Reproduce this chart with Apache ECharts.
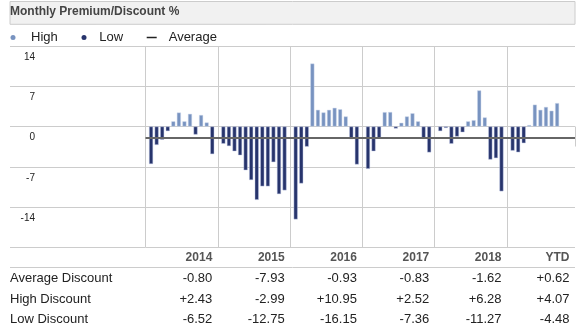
<!DOCTYPE html>
<html><head><meta charset="utf-8">
<script src="https://cdn.jsdelivr.net/npm/echarts@6/dist/echarts.min.js"></script>
<style>html,body{margin:0;padding:0;background:#fff}#c{width:585px;height:331px}</style>
</head><body><div id="c"></div>
<script>
// ---- data ----
const years = ['2014', '2015', '2016', '2017', '2018', 'YTD'];
const m2014 = [-6.52, -3.2, -2.3, -0.8, 0.9, 2.43, 0.9, 2.2, -1.4, 2.0, 0.7, -4.8];
const m2015 = [-2.99, -3.4, -4.3, -5.0, -7.6, -9.3, -12.75, -10.4, -10.4, -6.2, -11.75, -11.1];
const m2016 = [-16.15, -9.9, -3.5, 10.95, 2.9, 2.45, 2.9, 3.25, 3.0, 1.75, -2.2, -6.6];
const m2017 = [-7.36, -4.3, -1.95, 2.5, 2.52, -0.35, 0.65, 1.75, 2.3, 0.9, -2.15, -4.5];
const m2018 = [-0.8, -0.25, -3.0, -1.75, -1.0, 0.9, 1.1, 6.28, 1.58, -5.75, -5.5, -11.27];
const mYTD = [-4.2, -4.48, -2.9, 0.25, 3.8, 2.9, 3.4, 2.75, 4.07];
const averageDiscount = [-0.80, -7.93, -0.93, -0.83, -1.62, 0.62];
const highDiscount = [2.43, -2.99, 10.95, 2.52, 6.28, 4.07];
const lowDiscount = [-6.52, -12.75, -16.15, -7.36, -11.27, -4.48];
const rowNames = ['Average Discount', 'High Discount', 'Low Discount'];
const averageLevel = -2.0;
const yMin = -21, yMax = 14, yStep = 7;

// ---- build ----
const FONT = '"Liberation Sans", Arial, sans-serif';
const GRID_C = '#cccccc';
const HIGH_C = '#7893c0', LOW_C = '#27346c';
const monthly = [m2014, m2015, m2016, m2017, m2018, mYTD];
const highData = [], lowData = [];
monthly.forEach((arr, yi) => arr.forEach((v, mi) => {
  const x = yi + (mi + 1) / 13;
  if (v >= 0) highData.push([x, v]); else lowData.push([x, v]);
}));
const fmt = v => (v > 0 ? '+' : '') + v.toFixed(2);
const xMax = 5.94;

const chart = echarts.init(document.getElementById('c'), null, {renderer: 'canvas'});
chart.setOption({
  animation: false,
  textStyle: {fontFamily: FONT},
  title: {
    text: 'Monthly Premium/Discount %', left: 10, top: 6, padding: 0,
    textStyle: {fontSize: 12, fontWeight: 'bold', color: '#444', fontFamily: FONT}
  },
  graphic: [
    {type: 'rect', z: -10, shape: {x: 10, y: 1.5, width: 565, height: 22.8},
     style: {fill: '#f1f1f1', stroke: GRID_C, lineWidth: 1}},
    {type: 'line', shape: {x1: 10, y1: 267.5, x2: 575, y2: 267.5}, style: {stroke: GRID_C, lineWidth: 1}}
  ],
  legend: [
    {data: [{name: 'High', icon: 'circle', itemStyle: {color: HIGH_C, borderWidth: 0}}], left: 10.5, top: 31, padding: 0,
     itemWidth: 5, itemHeight: 5, textStyle: {fontSize: 13, color: '#222', fontFamily: FONT, padding: [0, 0, 0, 10.5]}},
    {data: [{name: 'Low', icon: 'circle', itemStyle: {color: LOW_C, borderWidth: 0}}], left: 81.5, top: 31, padding: 0,
     itemWidth: 5, itemHeight: 5, textStyle: {fontSize: 13, color: '#222', fontFamily: FONT, padding: [0, 0, 0, 7.8]}},
    {data: [{name: 'Average', icon: 'rect', itemStyle: {color: '#222'}}], left: 146.7, top: 31, padding: 0,
     itemWidth: 10, itemHeight: 1.5, textStyle: {fontSize: 13, color: '#222', fontFamily: FONT, padding: [0, 0, 0, 7]}}
  ],
  grid: [
    {left: 145.5, right: 10, top: 46, bottom: 83.7},
    {left: 10, width: 135.5, top: 46, bottom: 83.7}
  ],
  xAxis: [
    {gridIndex: 0, type: 'value', min: 0, max: xMax, interval: 1,
     axisLine: {show: false},
     axisTick: {show: true, length: 20, lineStyle: {color: GRID_C}},
     splitLine: {show: true, showMaxLine: false, lineStyle: {color: GRID_C}},
     axisLabel: {
       show: true, showMinLabel: true, showMaxLabel: true, margin: 0.5, align: 'right',
       padding: [0, 5.5, 0, 0],
       formatter: (v, i) => {
         if (i === 0) return '';
         const c = i - 1;
         return '{h|' + years[c] + '}\n{v|' + fmt(averageDiscount[c]) + '}\n{v|' +
           fmt(highDiscount[c]) + '}\n{v|' + fmt(lowDiscount[c]) + '}';
       },
       rich: {
         h: {fontSize: 12, fontWeight: 'bold', color: '#555', lineHeight: 20.5, fontFamily: FONT, align: 'right'},
         v: {fontSize: 13, color: '#222', lineHeight: 20.5, fontFamily: FONT, align: 'right'}
       }
     }},
    {gridIndex: 1, type: 'value', min: 0, max: 1, interval: 1,
     axisLine: {show: false}, axisTick: {show: false}, splitLine: {show: false},
     axisLabel: {
       show: true, margin: 0.5, align: 'left',
       formatter: (v, i) => i === 0 ? '{h| }\n' + rowNames.map(r => '{v|' + r + '}').join('\n') : '',
       rich: {
         h: {fontSize: 12, lineHeight: 20.5, fontFamily: FONT, align: 'left'},
         v: {fontSize: 13, color: '#222', lineHeight: 20.5, fontFamily: FONT, align: 'left'}
       }
     }}
  ],
  yAxis: [
    {gridIndex: 0, type: 'value', min: yMin, max: yMax, interval: yStep,
     axisLabel: {show: false}, axisLine: {show: false}, axisTick: {show: false},
     splitLine: {show: true, lineStyle: {color: GRID_C}}},
    {gridIndex: 1, type: 'value', min: yMin, max: yMax, interval: yStep,
     axisLine: {show: false}, axisTick: {show: false},
     splitLine: {show: true, lineStyle: {color: GRID_C}},
     axisLabel: {inside: true, align: 'right', margin: 25, verticalAlign: 'top', lineHeight: 22,
       fontSize: 10, color: '#222', fontFamily: FONT, showMinLabel: false}}
  ],
  series: [
    {name: 'High', type: 'bar', xAxisIndex: 0, yAxisIndex: 0, data: highData, barWidth: 4, barGap: '-100%',
     itemStyle: {color: HIGH_C, borderColor: 'rgba(205,214,235,0.9)', borderWidth: 0.5}},
    {name: 'Low', type: 'bar', xAxisIndex: 0, yAxisIndex: 0, data: lowData, barWidth: 4, barGap: '-100%',
     itemStyle: {color: LOW_C, borderColor: 'rgba(190,200,230,0.9)', borderWidth: 0.5}},
    {name: 'Average', type: 'line', xAxisIndex: 0, yAxisIndex: 0, data: [], color: '#666',
     markLine: {symbol: 'none', silent: true, label: {show: false},
       lineStyle: {color: '#666', width: 2, type: 'solid'},
       data: [{yAxis: averageLevel}]}}
  ]
});
</script></body></html>
